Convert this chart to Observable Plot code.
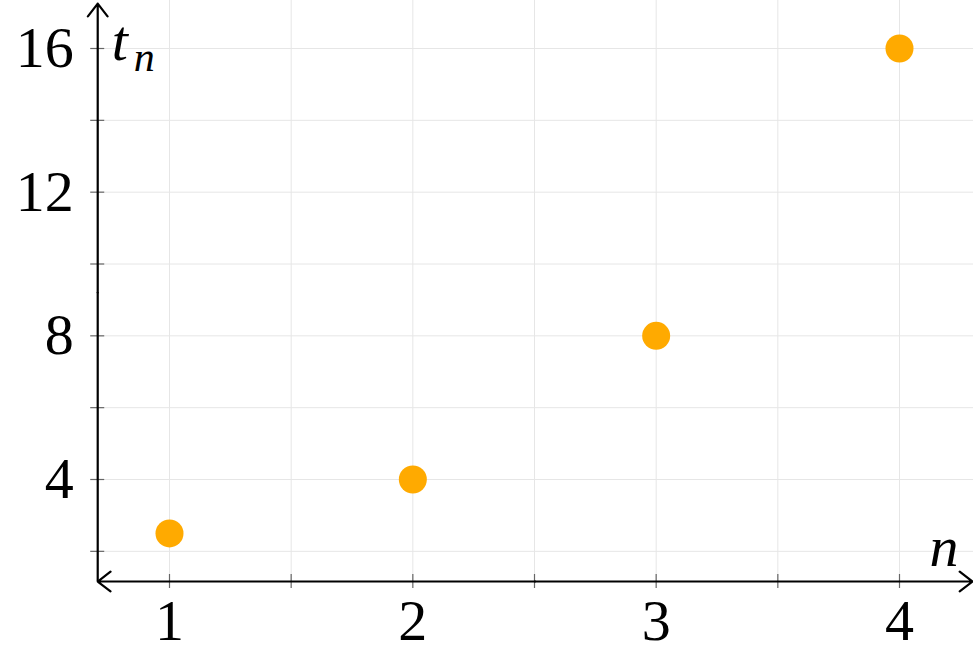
<!DOCTYPE html>
<html><head><meta charset="utf-8">
<script src="https://cdn.jsdelivr.net/npm/d3@7"></script>
<script src="https://cdn.jsdelivr.net/npm/@observablehq/plot@0.6"></script>
<style>body{margin:0;background:#fff}</style>
</head><body><div id="chart"></div>
<script>
const nValues = [1, 2, 3, 4];
const tValues = [2.5, 4, 8, 16];
const xTickLabels = [1, 2, 3, 4];
const yTickLabels = [4, 8, 12, 16];
const xGrid = [1, 1.5, 2, 2.5, 3, 3.5, 4];
const yGrid = [2, 4, 6, 8, 10, 12, 14, 16];
const xExtent = [0.705, 4.3];
const yExtent = [1.16, 17.25];
const xAxisLabel = "n";
const yAxisLabel = ["t", "n"];

const points = nValues.map((n, i) => ({n, t: tValues[i]}));
const font = "'Liberation Serif', 'DejaVu Serif', serif";
const xMid = (xExtent[0] + xExtent[1]) / 2;
const yMid = (yExtent[0] + yExtent[1]) / 2;

const chart = Plot.plot({
  width: 973,
  height: 658,
  margin: 0,
  style: {background: "#fff", fontFamily: font},
  x: {domain: [1, 4], range: [169, 899], axis: null},
  y: {domain: [4, 16], range: [479, 48], axis: null},
  marks: [
    Plot.ruleX(xGrid, {x: d => d, y1: yExtent[0], y2: 17.5, stroke: "#e6e6e6", strokeWidth: 1}),
    Plot.ruleY(yGrid, {y: d => d, x1: xExtent[0], x2: 4.35, stroke: "#e6e6e6", strokeWidth: 1}),
    Plot.ruleX(xGrid, {x: d => d, y1: yExtent[0], y2: yExtent[0], insetTop: -7, insetBottom: -7, stroke: "#666", strokeWidth: 1.2}),
    Plot.ruleY(yGrid, {y: d => d, x1: xExtent[0], x2: xExtent[0], insetLeft: -7, insetRight: -7, stroke: "#666", strokeWidth: 1.2}),
    Plot.arrow([{a: xMid, b: xExtent[1]}, {a: xMid, b: xExtent[0]}], {x1: "a", x2: "b", y1: yExtent[0], y2: yExtent[0], stroke: "black", strokeWidth: 2.2, headLength: 11, headAngle: 75}),
    Plot.arrow([{a: yMid, b: yExtent[1]}], {y1: "a", y2: "b", x1: xExtent[0], x2: xExtent[0], stroke: "black", strokeWidth: 2.2, headLength: 11, headAngle: 75}),
    Plot.ruleX([xExtent[0]], {x: d => d, y1: yMid, y2: yExtent[0], stroke: "black", strokeWidth: 2.2}),
    Plot.dot(points, {x: "n", y: "t", r: 14, fill: "#ffaa00", stroke: null}),
    Plot.text(xTickLabels, {x: d => d, y: yExtent[0], dy: 40, text: d => String(d), fontSize: 58, fill: "black", fontFamily: font}),
    Plot.text(yTickLabels, {x: xExtent[0], y: d => d, dx: -24, dy: 0, text: d => String(d), textAnchor: "end", fontSize: 58, fill: "black", fontFamily: font}),
    Plot.text([xAxisLabel], {x: xExtent[1], y: yExtent[0], dx: -14, dy: -34, text: d => d, textAnchor: "end", fontSize: 58, fontStyle: "italic", fill: "black", fontFamily: font}),
    Plot.text([yAxisLabel[0]], {x: xExtent[0], y: yExtent[1], dx: 14, dy: 38, text: d => d, textAnchor: "start", fontSize: 58, fontStyle: "italic", fill: "black", fontFamily: font}),
    Plot.text([yAxisLabel[1]], {x: xExtent[0], y: yExtent[1], dx: 36, dy: 54, text: d => d, textAnchor: "start", fontSize: 42, fontStyle: "italic", fill: "black", fontFamily: font})
  ]
});
document.getElementById("chart").appendChild(chart);
</script>
</body></html>
